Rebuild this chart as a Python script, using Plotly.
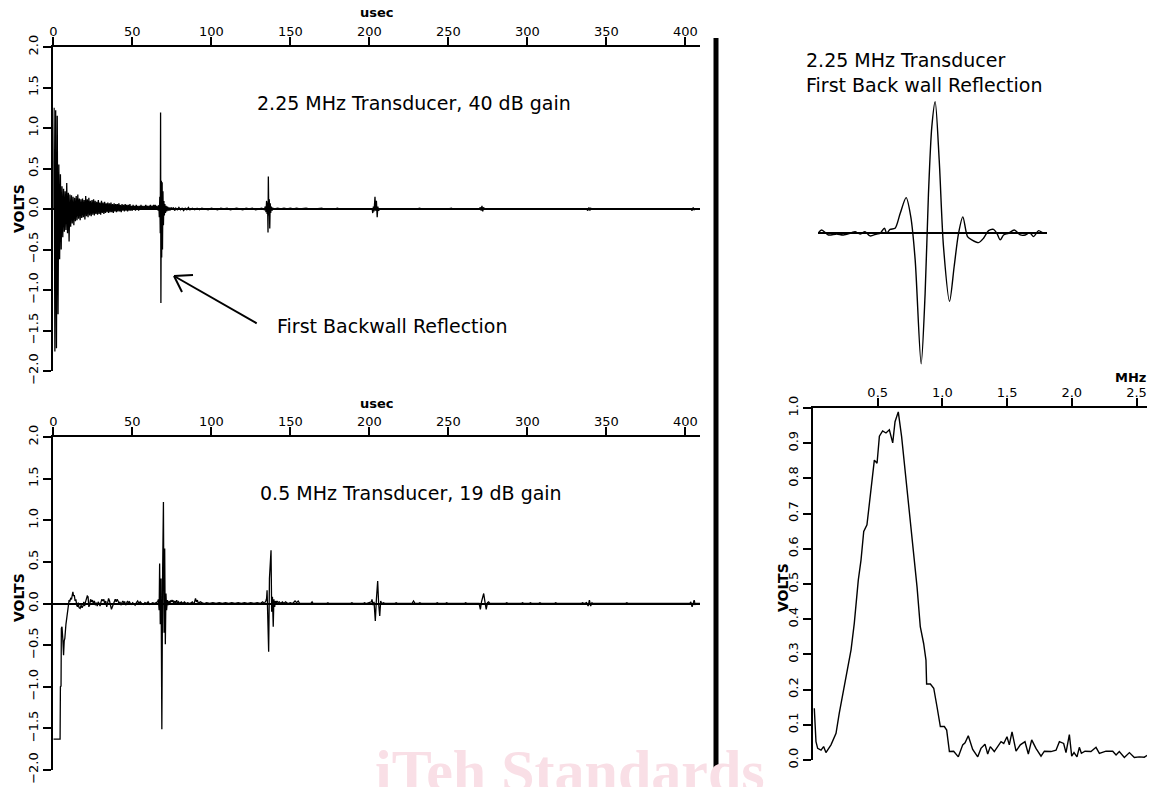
import plotly.graph_objects as go

W, H = 1151, 787
FONT = "DejaVu Sans"

# ---------------- DATA ----------------
# 2.25 MHz transducer, 40 dB gain: initial ringing sampled every 0.5 usec from t = 0
top_ring_dt = 0.5
top_ring_v = [
    0.00, 1.25, -1.76, 1.22, -1.72, 1.15, -1.30, 0.55, -0.62, 0.43,
    -0.50, 0.28, -0.35, 0.25, -0.28, 0.22, -0.26, 0.32, -0.30, 0.20,
    -0.40, 0.18, -0.22, 0.17, -0.18, 0.15, -0.20, 0.14, -0.15, 0.16,
    -0.14, 0.18, -0.12, 0.13, -0.14, 0.12, -0.11, 0.13, -0.10, 0.11,
    -0.13, 0.16, -0.09, 0.12, -0.10, 0.14, -0.08, 0.10, -0.09, 0.11,
    -0.07, 0.12, -0.08, 0.10, -0.06, 0.09, -0.07, 0.11, -0.06, 0.08,
    -0.07, 0.10, -0.05, 0.08, -0.06, 0.09, -0.05, 0.07, -0.04, 0.08,
    -0.05, 0.07, -0.04, 0.08, -0.04, 0.06, -0.05, 0.07, -0.03, 0.06,
    -0.04, 0.06, -0.03, 0.07, -0.03, 0.05, -0.04, 0.06, -0.02, 0.05,
    -0.03, 0.06, -0.02, 0.05, -0.03, 0.05, -0.02, 0.06, -0.02, 0.04,
    -0.02, 0.05, -0.01, 0.04, -0.02, 0.05, -0.01, 0.04, -0.02, 0.04,
    -0.01, 0.05, -0.01, 0.04, -0.01, 0.04, -0.01, 0.05, 0.00, 0.04,
    -0.01, 0.04, 0.00, 0.05, -0.01, 0.04, 0.00, 0.05, 0.01, 0.05,
    -0.01, 0.04, 0.02,
]
top_tail_t = [
    66.0, 66.4, 66.8, 67.1, 67.4, 67.7, 67.9, 68.1, 68.4, 68.6, 68.9, 69.1, 69.4, 69.7,
    70.0, 70.3, 70.6, 71.0, 71.4, 71.8, 72.3, 72.8, 73.3, 73.8, 74.5, 75.2, 76.0, 76.8,
    77.5, 78.5, 79.5, 80.5, 81.5, 82.5, 83.5, 84.5, 85.5, 86.5, 88.0, 89.5, 91.0, 92.5,
    94.0, 96.0, 98.0, 100.0, 102.0, 104.0, 106.0, 108.0, 110.0, 112.0, 114.0, 116.0,
    118.0, 120.0, 122.0, 124.0, 126.0, 128.0, 130.0, 132.0, 133.5,
    134.2, 134.6, 135.0, 135.3, 135.6, 135.9, 136.1, 136.4, 136.7, 137.0, 137.3, 137.6,
    138.0, 138.5, 139.0, 140.0, 142.0, 144.0, 146.0, 148.0, 150.0, 152.0, 154.0, 156.0,
    160.0, 162.0, 166.0, 170.0, 171.0, 178.0, 180.0, 181.0, 190.0, 196.0,
    201.8, 202.2, 202.6, 203.0, 203.6, 204.0, 204.5, 205.0, 205.4, 205.9, 206.5,
    230.0, 232.0, 233.0, 250.0, 252.0, 253.0,
    269.5, 270.3, 270.8, 271.3, 271.8, 272.3, 272.9, 300.0,
    337.5, 338.3, 339.0, 339.6, 340.2, 341.0,
    403.5, 404.3, 405.0, 405.6, 406.3, 409.3,
]
top_tail_v = [
    0.03, -0.02, 0.05, -0.10, 0.15, -0.30, 1.19, -1.16, 0.35, -0.60, 0.33, -0.50, 0.22, -0.20,
    0.10, -0.08, 0.06, -0.05, 0.04, -0.03, 0.03, -0.02, 0.02, -0.02, 0.02, -0.01, 0.02, -0.02,
    0.01, -0.01, 0.02, -0.01, 0.01, -0.02, 0.01, -0.01, 0.02, -0.01, 0.01, -0.01, 0.01, -0.01,
    0.01, 0.00, -0.01, 0.01, 0.00, -0.01, 0.01, 0.00, 0.01, -0.01, 0.00, 0.01,
    0.00, -0.01, 0.01, 0.00, 0.01, -0.01, 0.00, 0.01, -0.01,
    0.03, -0.04, 0.10, -0.06, 0.08, -0.29, 0.40, -0.08, 0.12, -0.24, 0.07, -0.05,
    0.03, -0.02, 0.01, 0.00, 0.01, 0.00, 0.01, 0.00, 0.01, 0.00, 0.01, 0.00,
    0.01, 0.00, 0.00, 0.01, 0.00, 0.00, 0.01, 0.00, 0.00, 0.00,
    0.00, -0.05, 0.03, -0.03, 0.15, -0.02, 0.10, -0.10, 0.03, -0.02, 0.00,
    0.00, 0.01, 0.00, 0.00, 0.01, 0.00,
    0.00, 0.02, -0.02, 0.04, -0.03, 0.02, 0.00, 0.00,
    0.00, -0.02, 0.02, -0.02, 0.01, 0.00,
    0.00, -0.02, 0.02, -0.01, 0.00, 0.00,
]

# 0.5 MHz transducer, 19 dB gain
bot_t = [
    0.0, 4.3, 4.5, 4.9, 5.1, 5.5, 6.0, 6.5, 6.9, 7.3, 8.0, 8.6, 9.3, 10.0, 10.5, 11.0, 11.5,
    12.0, 12.4, 12.8, 13.3, 13.8, 14.3, 14.8, 15.3, 15.8, 16.3, 17.0, 17.6, 18.2, 18.8, 19.3,
    19.8, 20.4, 21.0, 21.5, 22.0, 22.5, 23.0, 23.6, 24.2, 24.8, 25.4, 26.0, 26.6, 27.2, 27.8,
    28.4, 29.0, 29.6, 30.2, 30.8, 31.4, 32.0, 32.6, 33.2, 33.8, 34.4, 35.0, 35.6, 36.2, 36.8,
    37.4, 38.0, 38.6, 39.2, 39.8, 40.4, 41.0, 41.6, 42.2, 42.8, 43.4, 44.0, 44.6, 45.2, 45.8,
    46.4, 47.0, 47.6, 48.2, 48.8, 49.4, 50.2, 51.0, 51.8, 52.6, 53.4, 54.2, 55.0, 56.0, 57.0,
    58.0, 59.0, 60.0, 61.0, 62.0, 63.0, 64.0, 65.0, 66.0,
    66.5, 67.0, 67.3, 67.7, 68.2, 68.7, 69.2, 69.7, 70.1, 70.5, 70.9, 71.3, 71.7, 72.2, 72.7,
    73.3, 73.9, 74.5, 75.1, 75.7, 76.3, 76.9, 77.5, 78.1, 78.7, 79.3, 80.0, 81.0, 82.0, 83.0,
    84.0, 85.0, 86.5, 88.0, 89.0, 90.0, 90.6, 91.2, 91.8, 93.0, 94.0, 95.5, 97.0, 99.0, 101.0,
    103.0, 105.0, 107.0, 109.0, 111.0, 113.0, 115.0, 117.0, 119.0, 121.0, 123.0, 125.0, 127.0,
    129.0, 131.0, 132.5, 133.5,
    134.5, 135.0, 135.3, 135.8, 136.3, 136.8, 137.3, 137.8, 138.2, 138.7, 139.2, 139.6, 140.1,
    140.6, 141.1, 141.6, 142.3, 143.0, 144.0, 145.0, 146.0, 147.0, 148.5, 150.0, 151.5, 153.0,
    154.0, 155.0, 156.0, 160.0, 163.0, 163.8, 164.5, 173.0, 173.8, 174.5, 188.0, 189.0, 190.0,
    196.0, 197.0, 198.0,
    201.3, 201.7, 202.3, 203.0, 203.8, 204.5, 205.3, 205.9, 206.6, 207.2, 207.8, 209.0, 210.0,
    216.0, 217.0, 218.0, 227.0, 228.0, 229.0, 231.0, 232.0, 233.0, 242.0, 243.0, 244.0,
    248.0, 249.0, 250.0, 260.0, 261.0, 262.0,
    269.5, 270.3, 271.0, 271.7, 272.4, 273.2, 274.0, 274.8, 275.5, 276.3,
    286.0, 287.0, 288.0, 296.0, 297.0, 298.0, 301.0, 302.0, 303.0, 307.0, 308.0, 309.0,
    317.0, 318.0, 319.0, 334.0, 335.0, 336.0,
    337.5, 338.5, 339.3, 340.1, 340.9, 341.6, 362.0, 363.0, 364.0,
    402.8, 403.5, 404.3, 405.0, 405.6, 406.3, 407.0, 409.3,
]
bot_v = [
    -1.63, -1.63, -1.00, -0.99, -0.30, -0.28, -0.42, -0.62, -0.45, -0.42, -0.25, -0.15, 0.00,
    0.04, 0.03, 0.06, 0.05,
    0.10, 0.14, 0.09, 0.10, 0.03, 0.05, -0.02, -0.04, 0.01, -0.05, -0.06, -0.02, -0.05, -0.03,
    0.02, -0.03, 0.02, 0.06, 0.09, 0.08, -0.04, -0.02, 0.05, 0.02, 0.04, 0.00, 0.03, -0.02,
    0.01, -0.03, 0.02, 0.00, -0.03, 0.02, 0.05, 0.03, 0.05, -0.01, 0.03, -0.04, 0.00, 0.06,
    0.03, -0.02, -0.07, -0.04, 0.00, 0.04, 0.05, 0.02, 0.05, 0.03, 0.00, 0.02, -0.02, 0.01,
    0.03, 0.01, 0.02, -0.02, 0.01, 0.03, 0.01, 0.02, 0.00, -0.01, 0.01, 0.00, -0.02, 0.01,
    0.03, 0.00, 0.02, 0.00, -0.01, 0.01, 0.00, 0.02, -0.01, 0.00, 0.01, 0.00, 0.01, 0.02,
    0.05, -0.08, 0.48, -0.25, 0.30, -1.51, 0.40, 1.22, -0.35, 0.66, -0.49, 0.12, -0.08, 0.04,
    -0.02, 0.03, 0.01, 0.04, 0.02, 0.04, 0.00, 0.03, 0.01, 0.04, 0.00, 0.02, 0.00, 0.02,
    0.00, 0.02, 0.00, 0.01, 0.00, 0.02, -0.01, 0.06, 0.02, 0.04, 0.00, 0.02, 0.01, 0.00,
    0.01, 0.00, 0.01, 0.00, 0.01, 0.00, 0.01, 0.00, 0.01, 0.00, 0.01, 0.00, 0.01, 0.00,
    0.01, 0.00, 0.01, 0.00, 0.02, 0.00,
    0.03, 0.06, 0.16, -0.10, -0.58, 0.30, 0.51, 0.64, -0.10, 0.08, -0.28, 0.05, -0.04,
    0.03, 0.00, 0.03, 0.01, 0.02, 0.00, 0.02, 0.00, 0.02, 0.00, 0.01, 0.00, 0.03,
    0.01, 0.03, 0.00, 0.00, 0.00, 0.02, 0.00, 0.00, 0.01, 0.00, 0.00, 0.01, 0.00,
    0.00, 0.01, 0.00,
    0.02, 0.05, -0.02, 0.02, -0.21, 0.05, 0.27, 0.00, -0.15, 0.03, 0.00, 0.01, 0.00,
    0.00, 0.01, 0.00, 0.00, 0.03, 0.00, 0.00, 0.01, 0.00, 0.00, 0.01, 0.00,
    0.00, 0.01, 0.00, 0.00, 0.01, 0.00,
    0.00, -0.07, 0.02, 0.08, 0.12, 0.02, -0.07, 0.01, 0.02, 0.00,
    0.00, 0.01, 0.00, 0.00, 0.01, 0.00, 0.00, 0.01, 0.00, 0.00, 0.01, 0.00,
    0.00, 0.01, 0.00, 0.00, 0.01, 0.00,
    0.01, -0.03, 0.04, -0.03, 0.01, 0.00, 0.00, 0.01, 0.00,
    0.00, 0.02, -0.04, 0.01, 0.04, -0.01, 0.00, 0.00,
]

# First back wall reflection (2.25 MHz), expanded view: time (usec, relative) and volts
pulse_t = [
    0.00, 0.058, 0.164, 0.296, 0.402, 0.534, 0.587, 0.667, 0.746, 0.825, 0.931, 0.984,
    1.053, 1.090, 1.143, 1.222, 1.302, 1.397, 1.471, 1.540, 1.635, 1.698, 1.751, 1.804,
    1.857, 1.921, 1.989, 2.085, 2.159, 2.228, 2.296, 2.370, 2.439, 2.545, 2.624, 2.704,
    2.783, 2.836, 2.889, 2.942, 3.021, 3.111, 3.206, 3.286, 3.354, 3.418, 3.497, 3.577, 3.630,
]
pulse_v = [
    0.000, 0.030, -0.015, -0.006, -0.015, 0.006, 0.015, -0.006, 0.015, -0.024, -0.006, 0.000,
    0.046, 0.000, 0.036, 0.046, 0.180, 0.325, 0.150, -0.240, -1.190, -0.550, 0.360, 0.970,
    1.200, 0.670, -0.120, -0.620, -0.300, 0.000, 0.150, -0.030, -0.060, -0.085, -0.045, 0.024,
    0.036, 0.000, -0.060, -0.015, 0.000, 0.030, -0.015, -0.015, 0.006, -0.030, 0.024, 0.000, 0.006,
]

# Frequency spectrum (MHz, volts)
spec_f = [
    0.010, 0.023, 0.036, 0.062, 0.082, 0.100, 0.139, 0.178, 0.203, 0.242, 0.294, 0.319, 0.350,
    0.371, 0.392, 0.417, 0.443, 0.474, 0.495, 0.513, 0.538, 0.564, 0.590, 0.616, 0.634, 0.659,
    0.685, 0.719, 0.752, 0.783, 0.804, 0.829, 0.855, 0.873, 0.878, 0.907, 0.933, 0.958, 0.984,
    1.015, 1.033, 1.054, 1.087, 1.123, 1.157, 1.175, 1.200, 1.234, 1.273, 1.298, 1.329, 1.350,
    1.370, 1.401, 1.453, 1.474, 1.499, 1.517, 1.538, 1.569, 1.602, 1.638, 1.664, 1.690, 1.723,
    1.762, 1.788, 1.839, 1.878, 1.904, 1.937, 1.955, 1.981, 1.999, 2.017, 2.040, 2.058, 2.074,
    2.102, 2.148, 2.187, 2.213, 2.264, 2.316, 2.342, 2.367, 2.406, 2.445, 2.483, 2.522, 2.560, 2.586,
]
spec_v = [
    0.147, 0.052, 0.033, 0.028, 0.038, 0.021, 0.043, 0.076, 0.133, 0.208, 0.313, 0.388, 0.511,
    0.568, 0.649, 0.668, 0.758, 0.852, 0.843, 0.920, 0.935, 0.929, 0.938, 0.901, 0.961, 0.989,
    0.918, 0.795, 0.663, 0.568, 0.492, 0.379, 0.331, 0.284, 0.216, 0.216, 0.204, 0.152, 0.095,
    0.095, 0.085, 0.024, 0.025, 0.009, 0.043, 0.049, 0.069, 0.030, 0.009, 0.033, 0.045, 0.017,
    0.038, 0.024, 0.052, 0.047, 0.066, 0.043, 0.080, 0.025, 0.043, 0.052, 0.017, 0.057, 0.033,
    0.011, 0.025, 0.024, 0.028, 0.052, 0.047, 0.021, 0.072, 0.011, 0.021, 0.009, 0.036, 0.019,
    0.025, 0.024, 0.036, 0.019, 0.025, 0.025, 0.014, 0.024, 0.007, 0.021, 0.007, 0.009, 0.008, 0.014,
]

usec_ticks = [0, 50, 100, 150, 200, 250, 300, 350, 400]
volt_ticks = [-2.0, -1.5, -1.0, -0.5, 0.0, 0.5, 1.0, 1.5, 2.0]
mhz_ticks = [0.5, 1.0, 1.5, 2.0, 2.5]
spec_ticks = [0.0, 0.1, 0.2, 0.3, 0.4, 0.5, 0.6, 0.7, 0.8, 0.9, 1.0]


def fmt(v):
    s = f"{v:.1f}"
    return s.replace("-", "\u2212")


# ---------------- FIGURE ----------------
def px(x):
    return x / W


def py(y):
    return 1 - y / H


top_t = [i * top_ring_dt for i in range(len(top_ring_v))] + top_tail_t
top_v = top_ring_v + top_tail_v

line = dict(color="black", width=1.3)
fig = go.Figure()
fig.add_trace(go.Scatter(x=top_t, y=top_v, mode="lines", line=line, xaxis="x", yaxis="y"))
fig.add_trace(go.Scatter(x=bot_t, y=bot_v, mode="lines", line=line, xaxis="x2", yaxis="y2"))
fig.add_trace(go.Scatter(x=pulse_t, y=pulse_v, mode="lines",
                         line=dict(color="black", width=1.4, shape="spline", smoothing=0.8),
                         xaxis="x3", yaxis="y3"))
fig.add_trace(go.Scatter(x=spec_f, y=spec_v, mode="lines", line=dict(color="black", width=1.4),
                         xaxis="x4", yaxis="y4"))

tickfont = dict(family=FONT, size=13, color="black")
common_x = dict(side="top", showline=True, linecolor="black", linewidth=2, ticks="outside", ticklen=8,
                tickwidth=2, tickcolor="black", showgrid=False, zeroline=False, tickfont=tickfont,
                automargin=False, ticklabelstandoff=-4)
common_y = dict(showline=True, linecolor="black", linewidth=2, ticks="outside", ticklen=8, tickwidth=2,
                tickcolor="black", showgrid=False, tickangle=-90, tickfont=tickfont, automargin=False)

fig.update_layout(
    width=W, height=H, autosize=False, showlegend=False,
    margin=dict(l=0, r=0, t=0, b=0, pad=0),
    paper_bgcolor="white", plot_bgcolor="white",
    xaxis=dict(common_x, domain=[px(53.3), px(700)], range=[0, 409.3], anchor="y",
               tickvals=usec_ticks, ticktext=[str(t) for t in usec_ticks]),
    yaxis=dict(common_y, domain=[py(371), py(47)], range=[-2, 2], anchor="x",
               tickvals=volt_ticks, ticktext=[fmt(v) for v in volt_ticks],
               zeroline=True, zerolinecolor="black", zerolinewidth=1.5),
    xaxis2=dict(common_x, domain=[px(53.3), px(700)], range=[0, 409.3], anchor="y2",
                tickvals=usec_ticks, ticktext=[str(t) for t in usec_ticks]),
    yaxis2=dict(common_y, domain=[py(770), py(437)], range=[-2, 2], anchor="x2",
                tickvals=volt_ticks, ticktext=[fmt(v) for v in volt_ticks],
                zeroline=True, zerolinecolor="black", zerolinewidth=1.5),
    xaxis3=dict(domain=[px(818), px(1047)], range=[0, 3.63], anchor="y3", showline=False,
                showticklabels=False, ticks="", showgrid=False, zeroline=False, automargin=False),
    yaxis3=dict(domain=[py(380), py(90)], range=[-1.337, 1.306], anchor="x3", showline=False,
                showticklabels=False, ticks="", showgrid=False, zeroline=True,
                zerolinecolor="black", zerolinewidth=1.5, automargin=False),
    xaxis4=dict(common_x, domain=[px(813), px(1147)], range=[0, 2.581], anchor="y4",
                tickvals=mhz_ticks, ticktext=[f"{v:.1f}" for v in mhz_ticks]),
    yaxis4=dict(common_y, domain=[py(760), py(408)], range=[0, 1], anchor="x4",
                tickvals=spec_ticks, ticktext=[fmt(v) for v in spec_ticks], zeroline=False),
)

bold13 = dict(family=FONT, size=13, color="black", weight="bold")
bold14 = dict(family=FONT, size=14, color="black", weight="bold")
reg19 = dict(family=FONT, size=19, color="black")
annots = [
    dict(text="usec", x=px(377), y=py(12), font=bold13),
    dict(text="usec", x=px(377), y=py(403), font=bold13),
    dict(text="MHz", x=px(1130), y=py(378), font=bold13),
    dict(text="VOLTS", x=px(19), y=py(209), textangle=-90, font=bold14),
    dict(text="VOLTS", x=px(19), y=py(598), textangle=-90, font=bold14),
    dict(text="VOLTS", x=px(783), y=py(588), textangle=-90, font=bold14),
    dict(text="2.25 MHz Transducer, 40 dB gain", x=px(255), y=py(103), xanchor="left", font=reg19),
    dict(text="0.5 MHz Transducer, 19 dB gain", x=px(258), y=py(493), xanchor="left", font=reg19),
    dict(text="First Backwall Reflection", x=px(275), y=py(326), xanchor="left", font=reg19),
    dict(text="2.25 MHz Transducer<br>First Back wall Reflection", x=px(804), y=py(72), xanchor="left",
         align="left", font=reg19),
    dict(text="iTeh Standards", x=px(570), y=py(771), xanchor="center",
         font=dict(family="Liberation Serif", size=60, color="#f9dfe6", weight="bold")),
]
for a in annots:
    a.setdefault("xanchor", "center")
    a.setdefault("yanchor", "middle")
    fig.add_annotation(xref="paper", yref="paper", showarrow=False, **a)

shapes = [
    # separator bar
    dict(x0=px(716), x1=px(716), y0=py(38), y1=py(776), width=5),
    # arrow shaft and head
    dict(x0=px(256.7), x1=px(174), y0=py(323.3), y1=py(276), width=2),
    dict(x0=px(174), x1=px(193), y0=py(276), y1=py(275), width=2),
    dict(x0=px(174), x1=px(182), y0=py(276), y1=py(292), width=2),
]
for s in shapes:
    fig.add_shape(type="line", xref="paper", yref="paper", x0=s["x0"], x1=s["x1"], y0=s["y0"], y1=s["y1"],
                  line=dict(color="black", width=s["width"]))

fig.write_html("out.html", config={"displayModeBar": False},
               post_script="document.body.style.margin='0';document.body.style.overflow='hidden';")
